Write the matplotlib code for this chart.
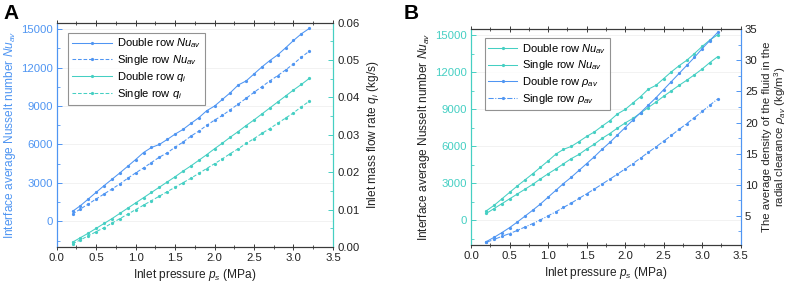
import matplotlib
matplotlib.use("Agg")
import matplotlib.pyplot as plt
from matplotlib.ticker import MultipleLocator

plt.rcParams['font.family'] = ['Liberation Sans', 'DejaVu Sans']
plt.rcParams['mathtext.fontset'] = 'custom'
plt.rcParams['mathtext.rm'] = 'Liberation Sans'
plt.rcParams['mathtext.it'] = 'Liberation Sans:italic'
plt.rcParams['mathtext.bf'] = 'Liberation Sans:bold'

# ---- data ----
pressure = [0.2, 0.3, 0.4, 0.5, 0.6, 0.7, 0.8, 0.9, 1.0, 1.1, 1.2, 1.3, 1.4, 1.5, 1.6,
            1.7, 1.8, 1.9, 2.0, 2.1, 2.2, 2.3, 2.4, 2.5, 2.6, 2.7, 2.8, 2.9, 3.0, 3.1, 3.2]

nu_double = [783, 1226, 1748, 2270, 2791, 3287, 3783, 4304, 4826, 5374, 5765, 6000, 6391,
             6809, 7174, 7643, 8087, 8635, 9000, 9522, 10043, 10643, 10957, 11504, 12052,
             12548, 12991, 13539, 14113, 14635, 15050]
nu_single = [574, 965, 1357, 1748, 2139, 2530, 2922, 3365, 3783, 4174, 4591, 5009, 5348,
             5791, 6183, 6652, 7043, 7487, 7904, 8270, 8713, 9157, 9600, 10070, 10513,
             10957, 11374, 11817, 12287, 12809, 13278]

q_double = [0.0013, 0.0025, 0.0037, 0.0050, 0.0063, 0.0076, 0.0090, 0.0104, 0.0118, 0.0132,
            0.0146, 0.0160, 0.0174, 0.0188, 0.0203, 0.0217, 0.0232, 0.0247, 0.0263, 0.0278,
            0.0294, 0.0309, 0.0325, 0.0340, 0.0356, 0.0372, 0.0388, 0.0404, 0.0420, 0.0435,
            0.0451]
q_single = [0.0009, 0.0019, 0.0030, 0.0041, 0.0052, 0.0064, 0.0076, 0.0088, 0.0100, 0.0112,
            0.0124, 0.0136, 0.0148, 0.0160, 0.0172, 0.0184, 0.0197, 0.0210, 0.0223, 0.0236,
            0.0250, 0.0263, 0.0277, 0.0290, 0.0304, 0.0317, 0.0331, 0.0345, 0.0359, 0.0375,
            0.0390]

rho_double = [0.87, 1.55, 2.3, 3.1, 4.0, 4.95, 5.9, 6.9, 8.0, 9.1, 10.2, 11.2, 12.3, 13.4,
              14.5, 15.7, 16.8, 18.0, 19.2, 20.4, 21.6, 22.8, 24.0, 25.3, 26.6, 27.9, 29.2,
              30.5, 31.9, 33.2, 34.5]
rho_single = [0.75, 1.2, 1.7, 2.15, 2.65, 3.2, 3.75, 4.35, 5.0, 5.65, 6.35, 7.05, 7.8, 8.55,
              9.3, 10.1, 10.9, 11.7, 12.55, 13.4, 14.3, 15.2, 16.1, 17.0, 17.95, 18.9, 19.85,
              20.8, 21.8, 22.8, 23.8]

x_ticks = [0.0, 0.5, 1.0, 1.5, 2.0, 2.5, 3.0, 3.5]
nu_ticks = [0, 3000, 6000, 9000, 12000, 15000]
q_ticks = [0.00, 0.01, 0.02, 0.03, 0.04, 0.05, 0.06]
rho_ticks = [5, 10, 15, 20, 25, 30, 35]

BLUE = '#4f95f2'
TEAL = '#45cfc3'
DARK = '#3a3a3a'
FS = 8.2
LFS = 8.6

fig = plt.figure(figsize=(7.89, 2.82), dpi=100)


def style_axes(ax, ax2, lcol, rcol, lab_lcol, tick_lcol):
    ax.set_xlim(0, 3.5)
    ax.set_ylim(-2000, 15500)
    ax.set_xticks(x_ticks)
    ax.set_xticklabels(['%.1f' % v for v in x_ticks])
    ax.xaxis.set_minor_locator(MultipleLocator(0.25))
    ax.set_yticks(nu_ticks)
    ax.yaxis.set_minor_locator(MultipleLocator(1500))
    ax.grid(axis='y', which='major', color='#f0f0f0', lw=0.6, zorder=0)
    ax.set_axisbelow(True)
    ax.tick_params(axis='x', which='both', direction='inout', top=True, labelsize=FS,
                   colors=DARK, labelcolor='#222222', pad=2)
    ax.tick_params(axis='x', which='major', length=4, width=0.7)
    ax.tick_params(axis='x', which='minor', length=2.5, width=0.6)
    ax.tick_params(axis='y', which='both', direction='in', colors=lcol, labelcolor=tick_lcol,
                   labelsize=FS, pad=3)
    ax.tick_params(axis='y', which='major', length=3.5, width=0.7)
    ax.tick_params(axis='y', which='minor', length=2, width=0.6)
    for a in (ax, ax2):
        a.spines['left'].set_color(lcol)
        a.spines['right'].set_color(rcol)
        a.spines['top'].set_color(DARK)
        a.spines['bottom'].set_color(DARK)
        for s in a.spines.values():
            s.set_linewidth(0.8)
    ax2.tick_params(axis='y', which='both', direction='in', colors=rcol, labelcolor='#222222',
                    labelsize=FS, pad=3)
    ax2.tick_params(axis='y', which='major', length=3.5, width=0.7)
    ax2.tick_params(axis='y', which='minor', length=2, width=0.6)
    ax.set_xlabel(r'Inlet pressure $p_s$ (MPa)', fontsize=LFS, color='#222222', labelpad=3)
    ax.set_ylabel(r'Interface average Nusselt number $Nu_{av}$', fontsize=LFS,
                  color=lab_lcol, labelpad=2)


mk = dict(marker='o', markersize=1.3, lw=0.75)
leg_kw = dict(loc='upper left', fontsize=8.0, numpoints=1,
              handletextpad=0.45, borderpad=0.35, labelspacing=0.25, frameon=True,
              fancybox=False, borderaxespad=0)

# ---------------- Panel A ----------------
axA = fig.add_axes([0.0719, 0.124, 0.3501, 0.7955])
axA2 = axA.twinx()
style_axes(axA, axA2, BLUE, TEAL, BLUE, BLUE)
axA2.set_ylim(0, 0.06)
axA2.set_yticks(q_ticks)
axA2.set_yticklabels(['%.2f' % v for v in q_ticks])
axA2.yaxis.set_minor_locator(MultipleLocator(0.005))
axA2.set_ylabel(r'Inlet mass flow rate $q_i$ (kg/s)', fontsize=LFS, color='#222222', labelpad=4)

lA1, = axA.plot(pressure, nu_double, color=BLUE, ls='-', **mk)
lA2, = axA.plot(pressure, nu_single, color=BLUE, ls=(0, (3.5, 1.8)), **mk)
lA3, = axA2.plot(pressure, q_double, color=TEAL, ls='-', **mk)
lA4, = axA2.plot(pressure, q_single, color=TEAL, ls=(0, (3.5, 1.8)), **mk)
legA = axA2.legend([lA1, lA2, lA3, lA4],
                   [r'Double row $Nu_{av}$', r'Single row $Nu_{av}$',
                    r'Double row $q_i$', r'Single row $q_i$'],
                   bbox_to_anchor=(0.04, 0.955), handlelength=3.6, **leg_kw)
legA.get_frame().set_edgecolor('#777777')
legA.get_frame().set_linewidth(0.8)

# ---------------- Panel B ----------------
axB = fig.add_axes([0.597, 0.131, 0.3418, 0.765])
axB2 = axB.twinx()
style_axes(axB, axB2, TEAL, BLUE, '#222222', TEAL)
axB2.set_ylim(0.3, 35)
axB2.set_yticks(rho_ticks)
axB2.yaxis.set_minor_locator(MultipleLocator(2.5))
axB2.set_ylabel('The average density of the fluid in the\n'
                r'radial clearance $\rho_{av}$ (kg/m$^3$)', fontsize=8.2, color='#222222',
                labelpad=3, linespacing=1.0)

lB1, = axB.plot(pressure, nu_double, color=TEAL, ls='-', **mk)
lB2, = axB.plot(pressure, nu_single, color=TEAL, ls='-', **mk)
lB3, = axB2.plot(pressure, rho_double, color=BLUE, ls='-', **mk)
lB4, = axB2.plot(pressure, rho_single, color=BLUE, ls=(0, (5, 1.5, 1, 1.5)), **mk)
legB = axB2.legend([lB1, lB2, lB3, lB4],
                   [r'Double row $Nu_{av}$', r'Single row $Nu_{av}$',
                    r'Double row $\rho_{av}$', r'Single row $\rho_{av}$'],
                   bbox_to_anchor=(0.05, 0.96), handlelength=2.6, **leg_kw)
legB.get_frame().set_edgecolor('#777777')
legB.get_frame().set_linewidth(0.8)

fig.text(0.004, 0.985, 'A', fontsize=15, fontweight='bold', va='top', ha='left')
fig.text(0.512, 0.985, 'B', fontsize=15, fontweight='bold', va='top', ha='left')

fig.savefig('out.png', dpi=100)
